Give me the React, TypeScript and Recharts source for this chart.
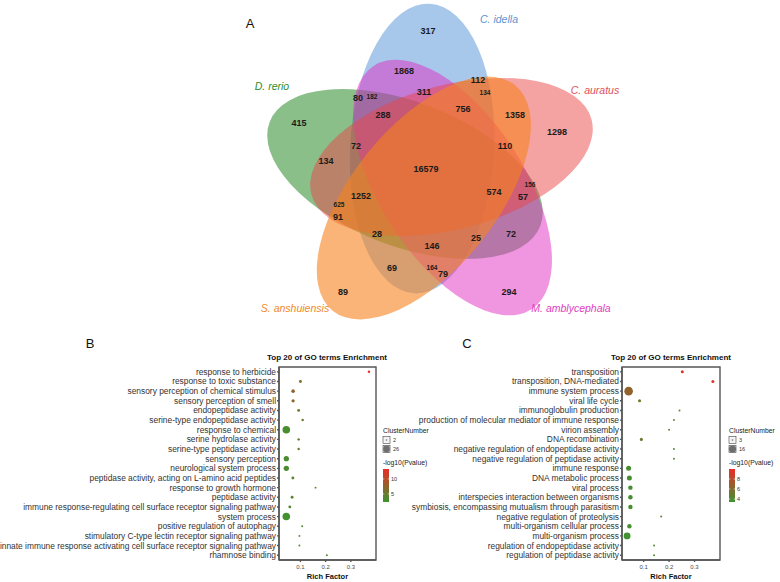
import React from 'react';
import { ScatterChart, Scatter, XAxis, YAxis, ZAxis, ReferenceArea } from 'recharts';

const FONT = '"Liberation Sans", Arial, Helvetica, sans-serif';

// ---------------- Venn (panel A) ----------------
const vennSets = ['C. idella', 'C. auratus', 'M. amblycephala', 'S. anshuiensis', 'D. rerio'];
const vennFill = ['#4f8fd8', '#e94545', '#e22ec4', '#f7821e', '#2a8a2a'];
const vennOpacity = [0.5, 0.5, 0.5, 0.6, 0.55];
const vennTextColor = ['#5b93cf', '#e0505a', '#e040c0', '#f08a2a', '#2e8b2e'];
const vennSetLabelPos = [[499, 19], [595, 90], [571, 308], [295, 308], [272, 86]];
const vennDrawOrder = [0, 4, 2, 1, 3];

const regionCounts = [317, 1868, 112, 134, 80, 182, 311, 288, 756, 1358, 1298, 415, 72, 110, 134, 16579, 1252, 574, 156, 57, 625, 91, 28, 25, 72, 146, 69, 164, 79, 89, 294];
const regionSmall = [0, 0, 0, 1, 0, 1, 0, 0, 0, 0, 0, 0, 0, 0, 0, 0, 0, 0, 1, 0, 1, 0, 0, 0, 0, 0, 0, 1, 0, 0, 0];
const regionPos = [
  [428, 31], [404, 71], [478, 80], [485, 92], [358, 98], [372, 96], [424, 92], [383, 115], [463, 109], [515, 115],
  [557, 132], [299, 123], [356, 146], [505, 146], [326, 161], [426, 169], [361, 196], [494, 192], [530, 184], [523, 197],
  [339, 204], [338, 217], [377, 234], [476, 238], [511, 234], [432, 246], [392, 268], [432, 267], [443, 274], [343, 292],
  [509, 292],
];

// ellipse geometry (5-fold symmetric layout)
const V_CX = 431, V_CY = 173, V_R = 26, V_A = 145, V_B = 72, PHI0 = -110, ROT0 = 3;

const ellipseData = vennDrawOrder.map((i) => {
  const phi = ((PHI0 + 72 * i) * Math.PI) / 180;
  return { name: vennSets[i], x: V_CX + V_R * Math.cos(phi), y: V_CY + V_R * Math.sin(phi), rot: ROT0 + 72 * i, fill: vennFill[i], op: vennOpacity[i] };
});
const regionData = regionCounts.map((c, i) => ({ x: regionPos[i][0], y: regionPos[i][1], label: String(c), small: regionSmall[i] }));
const setLabelData = vennSets.map((n, i) => ({ x: vennSetLabelPos[i][0], y: vennSetLabelPos[i][1], label: n, color: vennTextColor[i] }));

const EllipseShape = (p: any) => (
  <ellipse cx={p.cx} cy={p.cy} rx={V_B} ry={V_A} transform={`rotate(${p.payload.rot} ${p.cx} ${p.cy})`} fill={p.payload.fill} fillOpacity={p.payload.op} stroke="none" />
);
const NumberShape = (p: any) => (
  <text x={p.cx} y={p.cy} textAnchor="middle" dominantBaseline="central" fontFamily={FONT} fontWeight="bold" fontSize={p.payload.small ? 6.5 : 9} fill="#1a1a1a">{p.payload.label}</text>
);
const SetLabelShape = (p: any) => (
  <text x={p.cx} y={p.cy} textAnchor="middle" dominantBaseline="central" fontFamily={FONT} fontStyle="italic" fontSize={10.5} fill={p.payload.color}>{p.payload.label}</text>
);

// ---------------- GO enrichment (panels B, C) ----------------
const termsB = [
  'response to herbicide',
  'response to toxic substance',
  'sensory perception of chemical stimulus',
  'sensory perception of smell',
  'endopeptidase activity',
  'serine-type endopeptidase activity',
  'response to chemical',
  'serine hydrolase activity',
  'serine-type peptidase activity',
  'sensory perception',
  'neurological system process',
  'peptidase activity, acting on L-amino acid peptides',
  'response to growth hormone',
  'peptidase activity',
  'immune response-regulating cell surface receptor signaling pathway',
  'system process',
  'positive regulation of autophagy',
  'stimulatory C-type lectin receptor signaling pathway',
  'innate immune response activating cell surface receptor signaling pathway',
  'rhamnose binding',
];
const richB = [0.372, 0.100, 0.071, 0.071, 0.093, 0.109, 0.044, 0.093, 0.093, 0.044, 0.044, 0.070, 0.160, 0.067, 0.058, 0.044, 0.107, 0.096, 0.096, 0.205];
const countB = [3, 4, 6, 5, 4, 3, 26, 3, 3, 13, 13, 4, 2, 4, 4, 26, 2, 2, 2, 2];
const logpB = [13, 6.5, 7.5, 7.5, 5.5, 5.5, 3, 5, 5, 3.2, 3.2, 4, 3.5, 4, 3.8, 2.6, 3.5, 3.5, 3.5, 3.5];

const termsC = [
  'transposition',
  'transposition, DNA-mediated',
  'immune system process',
  'viral life cycle',
  'immunoglobulin production',
  'production of molecular mediator of immune response',
  'virion assembly',
  'DNA recombination',
  'negative regulation of endopeptidase activity',
  'negative regulation of peptidase activity',
  'immune response',
  'DNA metabolic process',
  'viral process',
  'interspecies interaction between organisms',
  'symbiosis, encompassing mutualism through parasitism',
  'negative regulation of proteolysis',
  'multi-organism cellular process',
  'multi-organism process',
  'regulation of endopeptidase activity',
  'regulation of peptidase activity',
];
const richC = [0.252, 0.372, 0.041, 0.084, 0.241, 0.219, 0.200, 0.091, 0.219, 0.219, 0.041, 0.044, 0.048, 0.048, 0.048, 0.169, 0.044, 0.035, 0.141, 0.141];
const countC = [4, 4, 16, 4, 3, 3, 3, 4, 3, 3, 7, 7, 6, 6, 6, 3, 6, 11, 3, 3];
const logpC = [9.6, 9.6, 6.6, 5.3, 4.6, 4.6, 4.6, 5.3, 4.3, 4.3, 3.8, 3.8, 3.7, 3.7, 3.7, 4.4, 3.7, 3.5, 4.2, 4.2];

const richTicks = [0.1, 0.2, 0.3];
const richDomain = [0.015, 0.4];
const sizeKeysB = [2, 26];
const sizeKeysC = [3, 16];
const colorTicksB = [10, 5];
const colorTicksC = [8, 6, 4];

const LOW = [62, 148, 48];
const HIGH = [236, 44, 40];
function colorFor(v: number, dom: number[]) {
  let t = (v - dom[0]) / (dom[1] - dom[0]);
  t = Math.max(0, Math.min(1, t));
  const c = LOW.map((l, i) => Math.round(l + (HIGH[i] - l) * t));
  return `rgb(${c[0]},${c[1]},${c[2]})`;
}

const AXIS = '#555';

const YTick = (p: any) => (
  <text x={p.x} y={p.y} textAnchor="end" dominantBaseline="central" fontSize={8.4} fill="#333" fontFamily={FONT}>{p.payload.value}</text>
);

function GoPanel(props: any) {
  const { terms, rich, counts, logp, zDomain, zRange, cDomain, left, yWidth, marginRight } = props;
  const data = terms.map((t: string, i: number) => ({ term: t, rich: rich[i], count: counts[i], logp: logp[i] }));
  const Bubble = (p: any) => {
    const r = Math.sqrt((p.size || 4) / Math.PI);
    return <circle cx={p.cx} cy={p.cy} r={r} fill={colorFor(p.payload.logp, cDomain)} />;
  };
  return (
    <div style={{ position: 'absolute', left, top: 340 }}>
      <ScatterChart width={390} height={242} margin={{ top: 27, right: marginRight, bottom: 0, left: 0 }}>
        <XAxis
          type="number" dataKey="rich" domain={richDomain} ticks={richTicks} allowDataOverflow height={22}
          tickSize={2} tickMargin={3} stroke={AXIS} strokeWidth={1.4}
          tick={{ fontSize: 6, fill: '#4d4d4d', fontFamily: FONT }}
          label={{ value: 'Rich Factor', position: 'insideBottom', offset: 3, style: { fontSize: 7.5, fontWeight: 'bold', fill: '#111', fontFamily: FONT } }}
        />
        <YAxis
          type="category" dataKey="term" width={yWidth} interval={0} tickSize={2} tickMargin={1} stroke={AXIS} strokeWidth={1.4}
          reversed tick={YTick}
        />
        <ZAxis type="number" dataKey="count" domain={zDomain} range={zRange} />
        <ReferenceArea x1={richDomain[0]} x2={richDomain[1]} fill="#fff" fillOpacity={0} stroke={AXIS} strokeWidth={1.4} ifOverflow="visible" />
        <Scatter data={data} shape={Bubble} isAnimationActive={false} />
      </ScatterChart>
    </div>
  );
}

function Legend(props: any) {
  const { x, keys, keyR, ticks, cDomain, id } = props;
  const barTop = 469, barH = 33;
  const ty = (v: number) => barTop + barH - ((v - cDomain[0]) / (cDomain[1] - cDomain[0])) * barH;
  return (
    <g fontFamily={FONT}>
      <defs>
        <linearGradient id={id} x1="0" y1="0" x2="0" y2="1">
          <stop offset="0" stopColor={colorFor(cDomain[1], cDomain)} />
          <stop offset="1" stopColor={colorFor(cDomain[0], cDomain)} />
        </linearGradient>
      </defs>
      <text x={x} y={432.5} fontSize={6.8} fill="#222">ClusterNumber</text>
      {keys.map((k: number, i: number) => (
        <g key={k}>
          <rect x={x} y={436.5 + i * 9} width={7} height={7} fill="#f4f4f4" stroke="#444" strokeWidth={0.6} />
          <circle cx={x + 3.5} cy={440 + i * 9} r={keyR[i]} fill="#6e6e6e" />
          <text x={x + 10} y={442 + i * 9} fontSize={5.5} fill="#333">{k}</text>
        </g>
      ))}
      <text x={x} y={465} fontSize={6.8} fill="#222">-log10(Pvalue)</text>
      <rect x={x} y={barTop} width={6} height={barH} fill={`url(#${id})`} />
      {ticks.map((t: number) => (
        <g key={t}>
          <line x1={x} x2={x + 1.3} y1={ty(t)} y2={ty(t)} stroke="#fff" strokeWidth={0.6} />
          <line x1={x + 4.7} x2={x + 6} y1={ty(t)} y2={ty(t)} stroke="#fff" strokeWidth={0.6} />
          <text x={x + 8} y={ty(t) + 2} fontSize={5.5} fill="#333">{t}</text>
        </g>
      ))}
    </g>
  );
}

const cDomB = [2.3, 13.3];
const cDomC = [3.4, 10];

export default function App() {
  return (
    <div style={{ position: 'absolute', left: 0, top: 0, width: 780, height: 582, background: '#fff', fontFamily: FONT }}>
      <div style={{ position: 'absolute', left: 0, top: 0 }}>
        <ScatterChart width={780} height={330} margin={{ top: 0, right: 0, bottom: 0, left: 0 }}>
          <XAxis type="number" dataKey="x" domain={[0, 780]} hide allowDataOverflow />
          <YAxis type="number" dataKey="y" domain={[0, 330]} reversed hide allowDataOverflow />
          <Scatter data={ellipseData} shape={EllipseShape} isAnimationActive={false} />
          <Scatter data={regionData} shape={NumberShape} isAnimationActive={false} />
          <Scatter data={setLabelData} shape={SetLabelShape} isAnimationActive={false} />
        </ScatterChart>
      </div>
      <GoPanel terms={termsB} rich={richB} counts={countB} logp={logpB} zDomain={[2, 26]} zRange={[3, 45]} cDomain={cDomB} left={0} yWidth={279} marginRight={14} />
      <GoPanel terms={termsC} rich={richC} counts={countC} logp={logpC} zDomain={[3, 16]} zRange={[3, 58]} cDomain={cDomC} left={390} yWidth={232} marginRight={60} />
      <svg width={780} height={582} style={{ position: 'absolute', left: 0, top: 0, pointerEvents: 'none' }}>
        <text x={250} y={28} fontSize={13} fontFamily={FONT} fill="#111" textAnchor="middle">A</text>
        <text x={90} y={348} fontSize={13} fontFamily={FONT} fill="#111" textAnchor="middle">B</text>
        <text x={467} y={348} fontSize={13} fontFamily={FONT} fill="#111" textAnchor="middle">C</text>
        <text x={327} y={360} fontSize={8} fontWeight="bold" fontFamily={FONT} fill="#111" textAnchor="middle">Top 20 of GO terms Enrichment</text>
        <text x={671} y={360} fontSize={8} fontWeight="bold" fontFamily={FONT} fill="#111" textAnchor="middle">Top 20 of GO terms Enrichment</text>
        <Legend id="gradB" x={383} keys={sizeKeysB} keyR={[0.8, 3.4]} ticks={colorTicksB} cDomain={cDomB} />
        <Legend id="gradC" x={729} keys={sizeKeysC} keyR={[0.8, 3.6]} ticks={colorTicksC} cDomain={cDomC} />
      </svg>
    </div>
  );
}
